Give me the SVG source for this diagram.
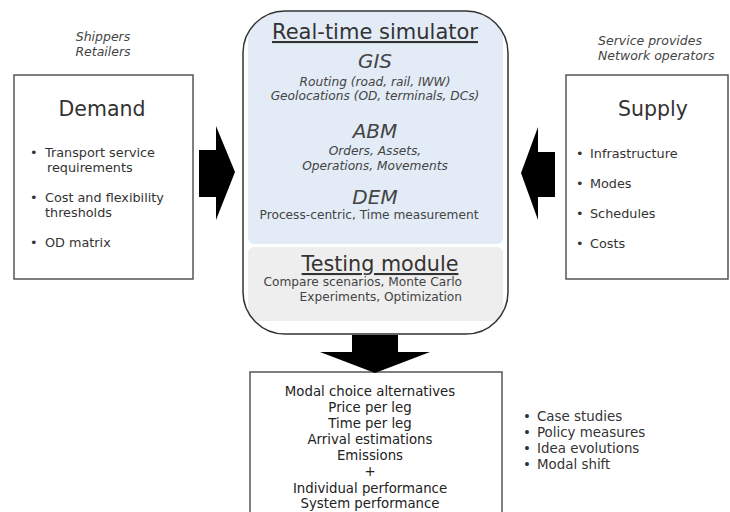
<svg xmlns="http://www.w3.org/2000/svg" width="730" height="512" viewBox="0 0 730 512">
<style>
text{font-family:"DejaVu Sans","Verdana",sans-serif;fill:#333}
.it{font-style:italic;fill:#444}
.c{text-anchor:middle}
.r{text-anchor:end}
.box{fill:#fff;stroke:#555;stroke-width:1.5}
.arr{fill:#000}
.b{font-size:12.8px;fill:#333}
.u{font-size:13.4px;fill:#333}
.o{font-size:13.3px;fill:#222;text-anchor:middle}
.s{font-size:12.2px;fill:#444}
</style>
<defs>
<clipPath id="cb"><rect x="243" y="11" width="265" height="323" rx="42" ry="42"/></clipPath>
</defs>
<rect width="730" height="512" fill="#fff"/>

<g id="demand">
<text class="it c" x="103" y="41" font-size="12.5">Shippers</text>
<text class="it c" x="103" y="56" font-size="12.5">Retailers</text>
<rect class="box" x="14" y="75" width="179" height="204"/>
<text class="c" x="102" y="116" font-size="20.5" fill="#222">Demand</text>
<text class="b" x="30" y="157">•</text><text class="b" x="45" y="157">Transport service</text>
<text class="b" x="47" y="172">requirements</text>
<text class="b" x="30" y="202">•</text><text class="b" x="45" y="202">Cost and flexibility</text>
<text class="b" x="45" y="217">thresholds</text>
<text class="b" x="30" y="247">•</text><text class="b" x="45" y="247">OD matrix</text>
</g>

<g id="simulator">
<rect x="243" y="11" width="265" height="323" rx="42" ry="42" fill="#fff"/>
<g clip-path="url(#cb)">
<rect x="248" y="8" width="255" height="236" rx="6" fill="#e2ebf6"/>
<rect x="248" y="247" width="255" height="74" rx="6" fill="#eeeeee"/>
</g>
<rect x="243" y="11" width="265" height="323" rx="42" ry="42" fill="none" stroke="#333" stroke-width="1.5"/>
<text class="c" x="375" y="39" font-size="21" fill="#444" text-decoration="underline">Real-time simulator</text>
<text class="it c" x="375" y="68" font-size="20">GIS</text>
<text class="it c s" x="375" y="86">Routing (road, rail, IWW)</text>
<text class="it c s" x="375" y="100">Geolocations (OD, terminals, DCs)</text>
<text class="it c" x="375" y="138" font-size="20">ABM</text>
<text class="it c s" x="375" y="155">Orders, Assets,</text>
<text class="it c s" x="375" y="170">Operations, Movements</text>
<text class="it c" x="375" y="204" font-size="20">DEM</text>
<text class="c s" x="369" y="219">Process-centric, Time measurement</text>
<text class="c" x="380" y="271" font-size="20.7" fill="#444" text-decoration="underline">Testing module</text>
<text class="r s" x="462" y="286" font-size="12.5">Compare scenarios, Monte Carlo</text>
<text class="r s" x="462" y="301" font-size="12.5">Experiments, Optimization</text>
</g>

<g id="supply">
<text class="it" x="598" y="45" font-size="12.5">Service provides</text>
<text class="it" x="598" y="60" font-size="12.5">Network operators</text>
<rect class="box" x="566" y="75" width="162" height="204"/>
<text class="c" x="653" y="116" font-size="20.5" fill="#222">Supply</text>
<text class="b" x="576" y="158">•</text><text class="b" x="590" y="158">Infrastructure</text>
<text class="b" x="576" y="188">•</text><text class="b" x="590" y="188">Modes</text>
<text class="b" x="576" y="218">•</text><text class="b" x="590" y="218">Schedules</text>
<text class="b" x="576" y="248">•</text><text class="b" x="590" y="248">Costs</text>
</g>

<g id="output">
<rect class="box" x="250" y="372" width="252" height="150"/>
<text class="o" x="370" y="396">Modal choice alternatives</text>
<text class="o" x="370" y="412">Price per leg</text>
<text class="o" x="370" y="428">Time per leg</text>
<text class="o" x="370" y="444">Arrival estimations</text>
<text class="o" x="370" y="460">Emissions</text>
<text class="o" x="370" y="476">+</text>
<text class="o" x="370" y="493">Individual performance</text>
<text class="o" x="370" y="508">System performance</text>
</g>

<g id="uses">
<text class="u" x="523" y="421">•</text><text class="u" x="537" y="421">Case studies</text>
<text class="u" x="523" y="437">•</text><text class="u" x="537" y="437">Policy measures</text>
<text class="u" x="523" y="453">•</text><text class="u" x="537" y="453">Idea evolutions</text>
<text class="u" x="523" y="469">•</text><text class="u" x="537" y="469">Modal shift</text>
</g>

<g id="connectors">
<polygon class="arr" points="199,150 216,150 216,126 235,172 216,220 216,197 199,197"/>
<polygon class="arr" points="555,152 538,152 538,127 521,173 538,220 538,197 555,197"/>
<polygon class="arr" points="352,335 398,335 398,352 430,352 375,373 320,352 352,352"/>
</g>
</svg>
